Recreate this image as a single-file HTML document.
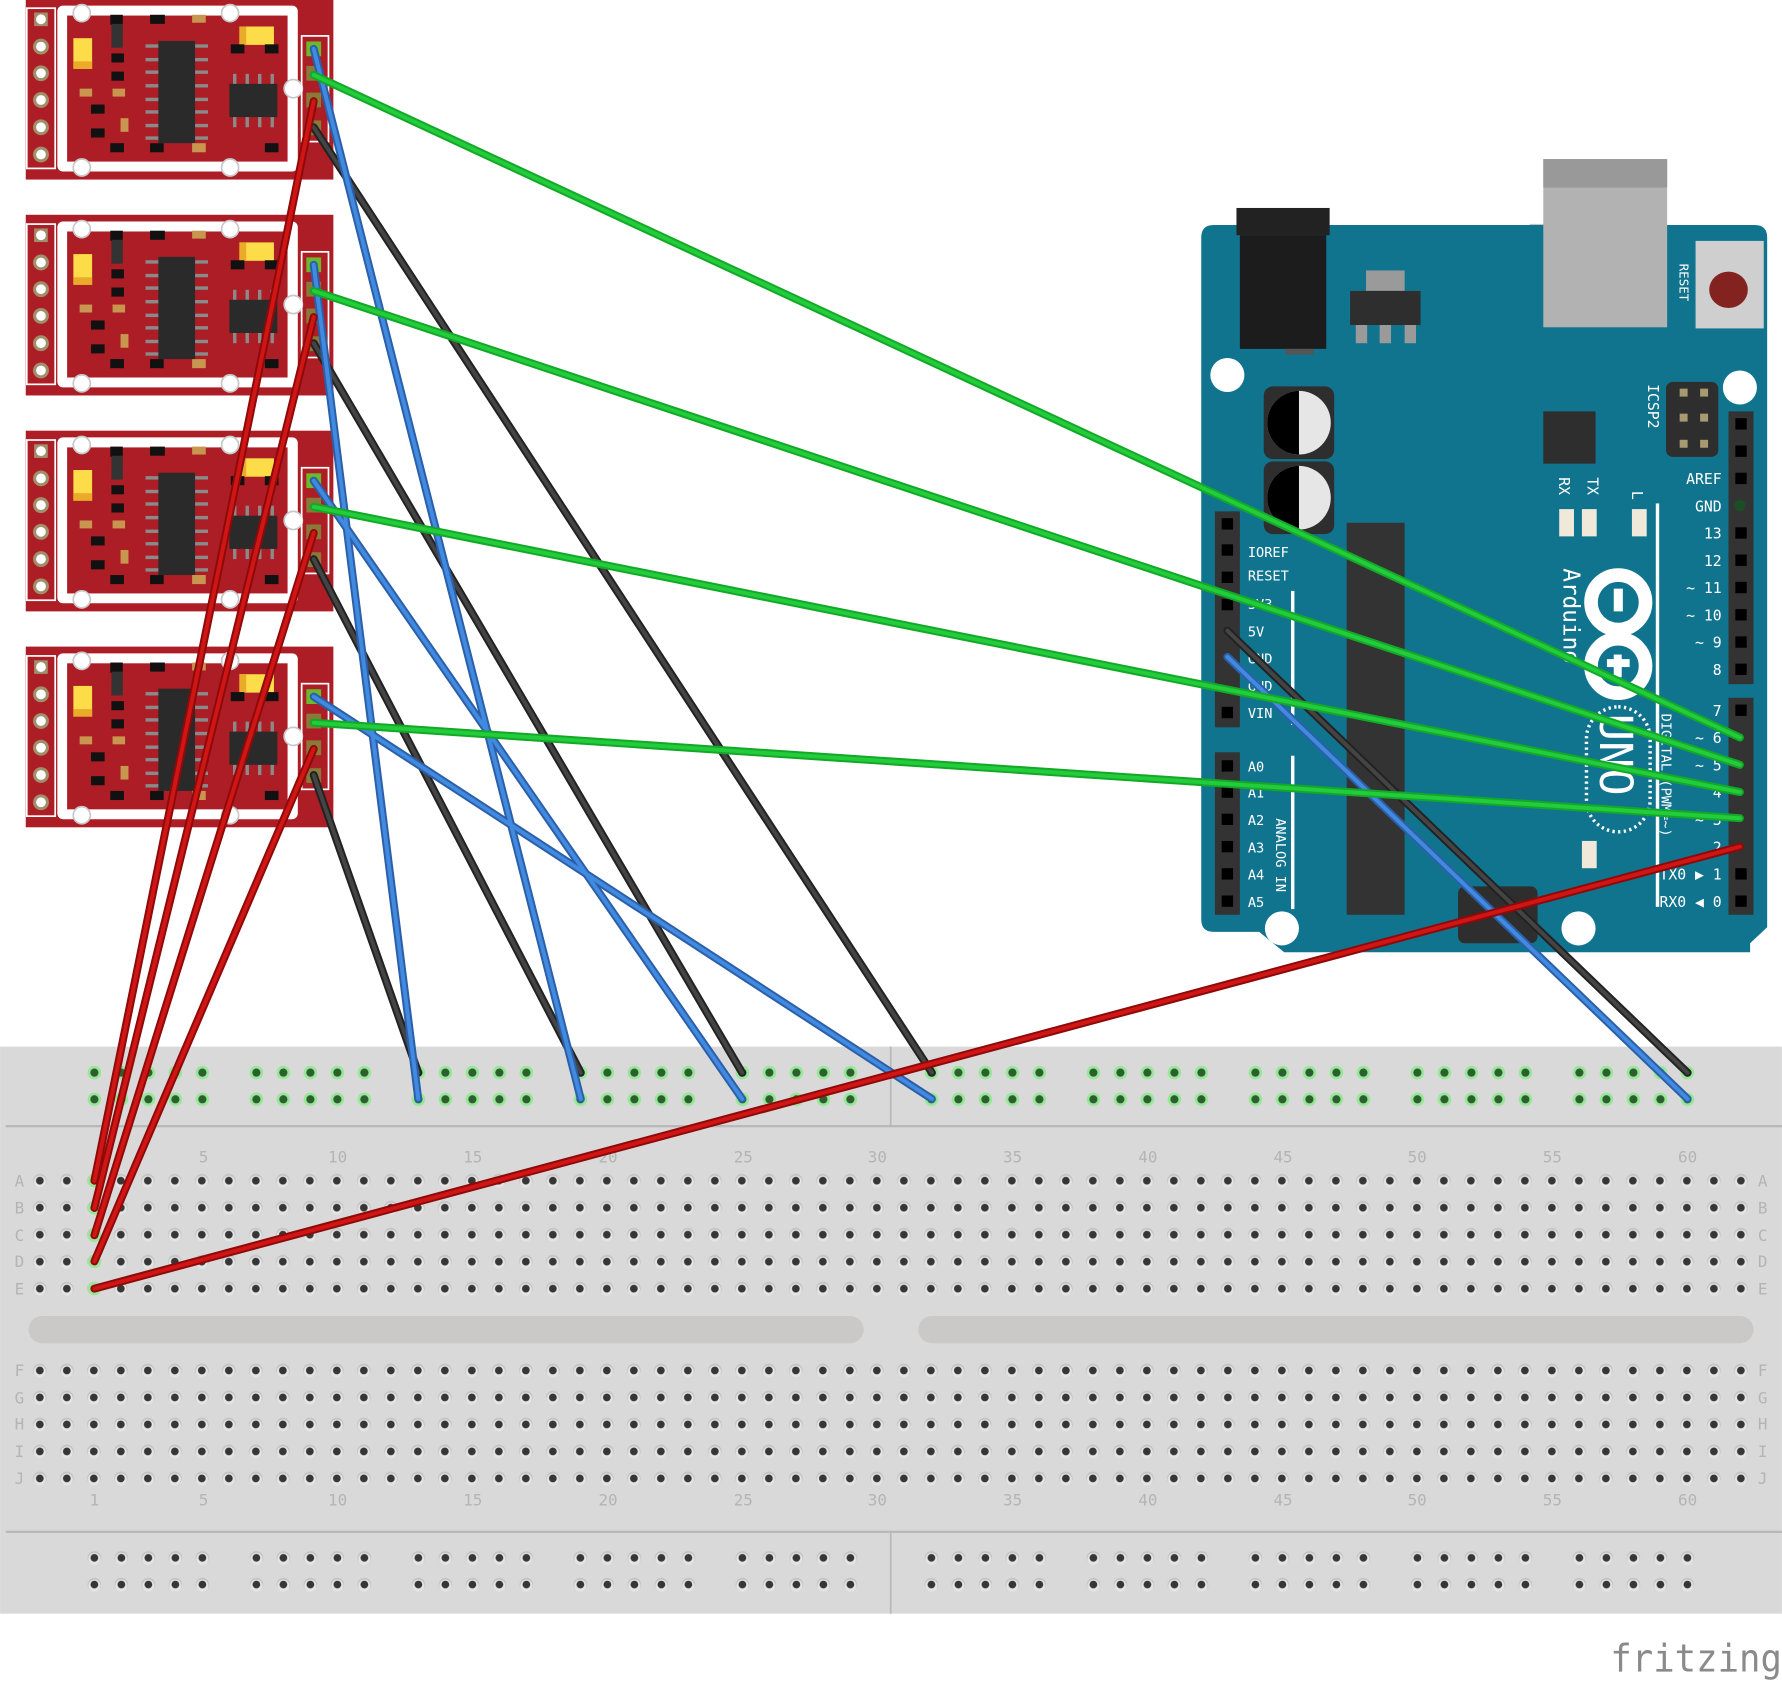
<!DOCTYPE html>
<html><head><meta charset="utf-8"><style>
html,body{margin:0;padding:0;background:#fff;}
svg{display:block;}
text{font-family:"DejaVu Sans Mono","Liberation Mono",monospace;}
</style></head><body>
<svg width="1782" height="1683" viewBox="0 0 1568 1481" xmlns="http://www.w3.org/2000/svg">
<defs>
<pattern id="hg" x="23.12" y="1027.1" width="23.76" height="23.75" patternUnits="userSpaceOnUse">
<circle cx="11.88" cy="11.88" r="6" fill="#c4c4c4"/><circle cx="11.88" cy="12.8" r="5.3" fill="#e4e4e4"/><circle cx="11.88" cy="11.88" r="3.4" fill="#363636"/></pattern>
<pattern id="hg2" x="23.12" y="1194.1" width="23.76" height="23.75" patternUnits="userSpaceOnUse">
<circle cx="11.88" cy="11.88" r="6" fill="#c4c4c4"/><circle cx="11.88" cy="12.8" r="5.3" fill="#e4e4e4"/><circle cx="11.88" cy="11.88" r="3.4" fill="#363636"/></pattern>
<pattern id="hgreen" x="71.12" y="932" width="23.76" height="23.5" patternUnits="userSpaceOnUse">
<circle cx="11.88" cy="11.88" r="6" fill="#98e698"/><circle cx="11.88" cy="11.88" r="3.6" fill="#2d5e2f"/></pattern>
<pattern id="hgreen2" x="71.12" y="1359" width="23.76" height="23.5" patternUnits="userSpaceOnUse">
<circle cx="11.88" cy="11.88" r="6" fill="#c4c4c4"/><circle cx="11.88" cy="12.8" r="5.3" fill="#e4e4e4"/><circle cx="11.88" cy="11.88" r="3.4" fill="#363636"/></pattern>
<g id="mod">
<rect x="22.6" y="0" width="270.7" height="159" fill="#ad1d25"/>
<rect x="23.5" y="8.2" width="25" height="141" fill="none" stroke="#fff" stroke-width="1.5"/>
<rect x="30" y="12" width="12" height="12" fill="#a08f6a"/><circle cx="36" cy="18" r="4.3" fill="#fff"/>
<circle cx="36" cy="42" r="7" fill="#a08f6a"/><circle cx="36" cy="42" r="4.3" fill="#fff"/>
<circle cx="36" cy="65.5" r="7" fill="#a08f6a"/><circle cx="36" cy="65.5" r="4.3" fill="#fff"/>
<circle cx="36" cy="89" r="7" fill="#a08f6a"/><circle cx="36" cy="89" r="4.3" fill="#fff"/>
<circle cx="36" cy="113" r="7" fill="#a08f6a"/><circle cx="36" cy="113" r="4.3" fill="#fff"/>
<circle cx="36" cy="137" r="7" fill="#a08f6a"/><circle cx="36" cy="137" r="4.3" fill="#fff"/>
<rect x="50.4" y="5.9" width="211.6" height="146" rx="5" fill="#fff"/>
<rect x="59" y="14.7" width="194" height="128.5" fill="#ad1d25"/>
<g fill="#fff" stroke="#c8c8c8" stroke-width="1.5"><circle cx="71.9" cy="12.6" r="7.5"/><circle cx="202.4" cy="12.6" r="7.5"/><circle cx="71.9" cy="148.4" r="7.5"/><circle cx="202.4" cy="148.4" r="7.5"/><circle cx="258" cy="79" r="8"/></g>
<g fill="#8a8a8a"><rect x="128" y="40" width="12" height="3"/><rect x="128" y="52" width="12" height="3"/><rect x="128" y="63" width="12" height="3"/><rect x="128" y="75" width="12" height="3"/><rect x="128" y="87" width="12" height="3"/><rect x="128" y="98" width="12" height="3"/><rect x="128" y="110" width="12" height="3"/><rect x="128" y="121" width="12" height="3"/>
<rect x="171" y="40" width="12" height="3"/><rect x="171" y="52" width="12" height="3"/><rect x="171" y="63" width="12" height="3"/><rect x="171" y="75" width="12" height="3"/><rect x="171" y="87" width="12" height="3"/><rect x="171" y="98" width="12" height="3"/><rect x="171" y="110" width="12" height="3"/><rect x="171" y="121" width="12" height="3"/>
<rect x="205" y="66" width="3" height="9"/><rect x="216" y="66" width="3" height="9"/><rect x="227" y="66" width="3" height="9"/><rect x="238" y="66" width="3" height="9"/>
<rect x="205" y="104" width="3" height="9"/><rect x="216" y="104" width="3" height="9"/><rect x="227" y="104" width="3" height="9"/><rect x="238" y="104" width="3" height="9"/></g>
<rect x="139.3" y="37" width="32.3" height="90" fill="#2a2a2a"/>
<rect x="201.8" y="74.8" width="42.2" height="29.2" fill="#2a2a2a"/>
<rect x="64.5" y="34.6" width="16.5" height="27" fill="#fcdc48"/><rect x="64.5" y="55" width="16.5" height="6.6" fill="#eaaa2a"/>
<rect x="210.6" y="24.3" width="30.4" height="16.2" fill="#fcdc48"/><rect x="210.6" y="24.3" width="6" height="16.2" fill="#eaaa2a"/>
<g fill="#111"><rect x="97" y="14" width="11" height="9"/><rect x="132" y="14" width="13" height="8"/><rect x="98" y="48" width="11" height="8"/><rect x="98" y="64" width="11" height="8"/><rect x="80" y="93" width="12" height="8"/><rect x="80" y="114" width="12" height="8"/><rect x="97" y="127" width="12" height="8"/><rect x="132" y="127" width="12" height="8"/><rect x="203" y="40" width="12" height="8"/><rect x="233" y="40" width="12" height="8"/><rect x="233" y="127" width="12" height="8"/><rect x="98" y="22" width="10" height="21" fill="#333"/></g>
<g fill="#c8964e"><rect x="169" y="14" width="12" height="7"/><rect x="70" y="79" width="11" height="7"/><rect x="99" y="79" width="11" height="7"/><rect x="106" y="105" width="7" height="12"/><rect x="169" y="127" width="12" height="8"/></g>
<rect x="265.4" y="32.6" width="23.6" height="93" fill="none" stroke="#fff" stroke-width="1.5"/>
<rect x="269.5" y="37.5" width="13" height="13" fill="#6cb82e"/><rect x="269.5" y="59" width="13" height="13" fill="#8a7a3a"/><rect x="269.5" y="82.5" width="13" height="13" fill="#8a7a3a"/><rect x="269.5" y="107" width="13" height="13" fill="#8a7a3a"/>
</g>
</defs>

<use href="#mod" y="-1"/>
<use href="#mod" y="189"/>
<use href="#mod" y="379"/>
<use href="#mod" y="569"/>

<rect x="1346" y="197" width="115" height="16" fill="#c4c4c4"/>
<path d="M1068 198 H1544 Q1555 198 1555 209 V816 L1540 830 V838 H1130 L1108 820 H1068 Q1057 820 1057 809 V209 Q1057 198 1068 198 Z" fill="#11748f"/>
<rect x="1358" y="140" width="109" height="148" fill="#b2b2b2"/><rect x="1358" y="140" width="109" height="25" fill="#999"/>
<rect x="1492" y="212" width="60" height="77" fill="#cfcfcf"/><ellipse cx="1521" cy="255" rx="17" ry="16" fill="#83231f"/>
<text x="0" y="0" transform="translate(1478,232) rotate(90)" font-size="11" fill="#fff">RESET</text>
<rect x="1088" y="183" width="82" height="24" fill="#222"/><rect x="1091" y="207" width="76" height="100" fill="#1c1c1c"/><rect x="1131" y="307" width="25" height="5" fill="#555"/>
<rect x="1202" y="238" width="34" height="18" fill="#9a9a9a"/><rect x="1188" y="256" width="62" height="30" fill="#2e2e2e"/>
<g fill="#9a9a9a"><rect x="1193" y="286" width="10" height="16"/><rect x="1214" y="286" width="10" height="16"/><rect x="1236" y="286" width="10" height="16"/></g>
<g fill="#fff"><ellipse cx="1080" cy="330" rx="15" ry="15"/><ellipse cx="1531" cy="341" rx="15" ry="15"/><ellipse cx="1128" cy="817" rx="15" ry="15"/><ellipse cx="1389" cy="817" rx="15" ry="15"/></g>
<rect x="1112" y="340" width="62" height="64" rx="8" fill="#2e2e2e"/><circle cx="1143" cy="372" r="28" fill="#e6e6e6"/><path d="M1143 344 A28 28 0 0 0 1143 400 Z" fill="#000"/>
<rect x="1112" y="406" width="62" height="64" rx="8" fill="#2e2e2e"/><circle cx="1143" cy="438" r="28" fill="#e6e6e6"/><path d="M1143 410 A28 28 0 0 0 1143 466 Z" fill="#000"/>
<rect x="1358" y="362" width="46" height="46" fill="#2e2e2e"/>
<rect x="1466" y="336" width="46" height="66" rx="6" fill="#2e2e2e"/>
<g fill="#a89a70"><rect x="1478" y="342" width="7" height="7"/><rect x="1496" y="342" width="7" height="7"/><rect x="1478" y="364" width="7" height="7"/><rect x="1496" y="364" width="7" height="7"/><rect x="1478" y="387" width="7" height="7"/><rect x="1496" y="387" width="7" height="7"/></g>
<text transform="translate(1450,338) rotate(90)" font-size="13" fill="#fff">ICSP2</text>
<text transform="translate(1372,420) rotate(90)" font-size="13" fill="#fff">RX</text>
<text transform="translate(1397,420) rotate(90)" font-size="13" fill="#fff">TX</text>
<text transform="translate(1436,432) rotate(90)" font-size="13" fill="#fff">L</text>
<g fill="#f0e8d8"><rect x="1372" y="448" width="13" height="24"/><rect x="1392" y="448" width="13" height="24"/><rect x="1436" y="448" width="13" height="24"/><rect x="1392" y="740" width="13" height="24"/></g>
<rect x="1185" y="460" width="51" height="345" fill="#333"/>
<rect x="1457" y="443" width="3" height="355" fill="#fff"/>
<text transform="translate(1376,500) rotate(90)" font-size="20" fill="#fff">Arduino</text>
<g fill="none" stroke="#fff" stroke-width="12"><circle cx="1424" cy="530" r="24"/><circle cx="1424" cy="586" r="24"/></g>
<rect x="1420" y="518" width="8" height="20" fill="#fff"/><rect x="1414" y="580" width="20" height="7" fill="#fff"/><rect x="1420" y="576" width="7" height="20" fill="#fff"/>
<rect x="1396" y="622" width="56" height="110" rx="28" fill="none" stroke="#fff" stroke-width="3" stroke-dasharray="2 3"/>
<text transform="translate(1408,628) rotate(90)" font-size="40" fill="#fff" font-family="Liberation Sans, sans-serif">UNO</text>
<text transform="translate(1462,628) rotate(90)" font-size="12" fill="#fff">DIGITAL (PWM=~)</text>
<text transform="translate(1123,720) rotate(90)" font-size="12" fill="#fff">ANALOG IN</text>
<rect x="1136" y="520" width="3" height="118" fill="#fff"/><rect x="1136" y="665" width="3" height="135" fill="#fff"/>
<rect x="1521" y="362" width="22" height="240" fill="#333"/><rect x="1521" y="614" width="22" height="191" fill="#333"/>
<rect x="1069" y="450" width="22" height="190" fill="#333"/><rect x="1069" y="662" width="22" height="143" fill="#333"/>
<g fill="#000">
<rect x="1527" y="368" width="10" height="10"/><rect x="1527" y="392" width="10" height="10"/><rect x="1527" y="416" width="10" height="10"/><rect x="1527" y="464" width="10" height="10"/><rect x="1527" y="488" width="10" height="10"/><rect x="1527" y="512" width="10" height="10"/><rect x="1527" y="536" width="10" height="10"/><rect x="1527" y="560" width="10" height="10"/><rect x="1527" y="584" width="10" height="10"/><rect x="1527" y="620" width="10" height="10"/><rect x="1527" y="764" width="10" height="10"/><rect x="1527" y="788" width="10" height="10"/>
<rect x="1075" y="456" width="10" height="10"/><rect x="1075" y="479" width="10" height="10"/><rect x="1075" y="503" width="10" height="10"/><rect x="1075" y="527" width="10" height="10"/><rect x="1075" y="622" width="10" height="10"/>
<rect x="1075" y="669" width="10" height="10"/><rect x="1075" y="692" width="10" height="10"/><rect x="1075" y="716" width="10" height="10"/><rect x="1075" y="740" width="10" height="10"/><rect x="1075" y="764" width="10" height="10"/><rect x="1075" y="788" width="10" height="10"/></g>
<circle cx="1531" cy="445" r="5" fill="#1d4d25"/>
<g font-size="13" fill="#fff" text-anchor="end">
<text x="1515" y="426">AREF</text><text x="1515" y="450">GND</text><text x="1515" y="474">13</text><text x="1515" y="498">12</text><text x="1515" y="522">~ 11</text><text x="1515" y="546">~ 10</text><text x="1515" y="570">~ 9</text><text x="1515" y="594">8</text><text x="1515" y="630">7</text><text x="1515" y="654">~ 6</text><text x="1515" y="678">~ 5</text><text x="1515" y="702">4</text><text x="1515" y="726">~ 3</text><text x="1515" y="750">2</text><text x="1515" y="774">TX0 ▶ 1</text><text x="1515" y="798">RX0 ◀ 0</text></g>
<g font-size="12" fill="#fff">
<text x="1098" y="490">IOREF</text><text x="1098" y="511">RESET</text><text x="1098" y="536">3V3</text><text x="1098" y="560">5V</text><text x="1098" y="584">GND</text><text x="1098" y="608">GND</text><text x="1098" y="632">VIN</text>
<text x="1098" y="679">A0</text><text x="1098" y="702">A1</text><text x="1098" y="726">A2</text><text x="1098" y="750">A3</text><text x="1098" y="774">A4</text><text x="1098" y="798">A5</text></g>
<rect x="1283" y="780" width="70" height="50" rx="6" fill="#2e2e2e"/>

<rect x="0" y="921" width="1568" height="499" fill="#d9d9d9"/>
<rect x="5" y="990" width="1563" height="2" fill="#b8b8b8"/>
<rect x="5" y="1347" width="1563" height="2" fill="#b8b8b8"/>
<rect x="783" y="921" width="1.5" height="70" fill="#b8b8b8"/>
<rect x="783" y="1349" width="1.5" height="71" fill="#b8b8b8"/>
<rect x="25" y="1158" width="735" height="24" rx="12" fill="#cbc9c7"/>
<rect x="808" y="1158" width="735" height="24" rx="12" fill="#cbc9c7"/>
<rect x="23.12" y="1027.1" width="1520.6" height="118.8" fill="url(#hg)"/>
<rect x="23.12" y="1194.1" width="1520.6" height="118.8" fill="url(#hg2)"/>
<g fill="url(#hgreen)">
<rect x="71.12" y="932" width="118.8" height="47"/><rect x="213.7" y="932" width="118.8" height="47"/><rect x="356.3" y="932" width="118.8" height="47"/><rect x="498.8" y="932" width="118.8" height="47"/><rect x="641.4" y="932" width="118.8" height="47"/>
<rect x="807.7" y="932" width="118.8" height="47"/><rect x="950.2" y="932" width="118.8" height="47"/><rect x="1092.8" y="932" width="118.8" height="47"/><rect x="1235.4" y="932" width="118.8" height="47"/><rect x="1377.9" y="932" width="118.8" height="47"/></g>
<g fill="url(#hgreen2)">
<rect x="71.12" y="1359" width="118.8" height="47"/><rect x="213.7" y="1359" width="118.8" height="47"/><rect x="356.3" y="1359" width="118.8" height="47"/><rect x="498.8" y="1359" width="118.8" height="47"/><rect x="641.4" y="1359" width="118.8" height="47"/>
<rect x="807.7" y="1359" width="118.8" height="47"/><rect x="950.2" y="1359" width="118.8" height="47"/><rect x="1092.8" y="1359" width="118.8" height="47"/><rect x="1235.4" y="1359" width="118.8" height="47"/><rect x="1377.9" y="1359" width="118.8" height="47"/></g>
<g font-family="DejaVu Sans, sans-serif" font-size="14" fill="#b4b4b4" text-anchor="middle">
<text x="179" y="1023">5</text><text x="297" y="1023">10</text><text x="416" y="1023">15</text><text x="535" y="1023">20</text><text x="654" y="1023">25</text><text x="772" y="1023">30</text><text x="891" y="1023">35</text><text x="1010" y="1023">40</text><text x="1129" y="1023">45</text><text x="1247" y="1023">50</text><text x="1366" y="1023">55</text><text x="1485" y="1023">60</text>
<text x="83" y="1325">1</text><text x="179" y="1325">5</text><text x="297" y="1325">10</text><text x="416" y="1325">15</text><text x="535" y="1325">20</text><text x="654" y="1325">25</text><text x="772" y="1325">30</text><text x="891" y="1325">35</text><text x="1010" y="1325">40</text><text x="1129" y="1325">45</text><text x="1247" y="1325">50</text><text x="1366" y="1325">55</text><text x="1485" y="1325">60</text>
<text x="17" y="1044">A</text><text x="17" y="1068">B</text><text x="17" y="1092">C</text><text x="17" y="1115">D</text><text x="17" y="1139">E</text>
<text x="17" y="1211">F</text><text x="17" y="1235">G</text><text x="17" y="1258">H</text><text x="17" y="1282">I</text><text x="17" y="1306">J</text>
<text x="1551" y="1044">A</text><text x="1551" y="1068">B</text><text x="1551" y="1092">C</text><text x="1551" y="1115">D</text><text x="1551" y="1139">E</text>
<text x="1551" y="1211">F</text><text x="1551" y="1235">G</text><text x="1551" y="1258">H</text><text x="1551" y="1282">I</text><text x="1551" y="1306">J</text></g>
<g fill="#98e698"><circle cx="83" cy="1039" r="6"/><circle cx="83" cy="1063" r="6"/><circle cx="83" cy="1087" r="6"/><circle cx="83" cy="1110" r="6"/><circle cx="83" cy="1134" r="6"/></g>

<g stroke-linecap="round" fill="none">
<g stroke="#222" stroke-width="7"><line x1="276" y1="112" x2="820" y2="944"/><line x1="276" y1="302" x2="653" y2="944"/><line x1="276" y1="492" x2="511" y2="944"/><line x1="276" y1="682" x2="368" y2="944"/><line x1="1080" y1="555" x2="1485" y2="944"/></g>
<g stroke="#444" stroke-width="3.5"><line x1="276" y1="112" x2="820" y2="944"/><line x1="276" y1="302" x2="653" y2="944"/><line x1="276" y1="492" x2="511" y2="944"/><line x1="276" y1="682" x2="368" y2="944"/><line x1="1080" y1="555" x2="1485" y2="944"/></g>
<g stroke="#2b5fa8" stroke-width="7"><line x1="276" y1="43" x2="511" y2="967"/><line x1="276" y1="233" x2="368" y2="967"/><line x1="276" y1="423" x2="653" y2="967"/><line x1="276" y1="613" x2="820" y2="967"/><line x1="1080" y1="578" x2="1485" y2="967"/></g>
<g stroke="#418ae0" stroke-width="3.5"><line x1="276" y1="43" x2="511" y2="967"/><line x1="276" y1="233" x2="368" y2="967"/><line x1="276" y1="423" x2="653" y2="967"/><line x1="276" y1="613" x2="820" y2="967"/><line x1="1080" y1="578" x2="1485" y2="967"/></g>
<g stroke="#14a828" stroke-width="7"><line x1="276" y1="66" x2="1531" y2="649"/><line x1="276" y1="256" x2="1531" y2="673"/><line x1="276" y1="446" x2="1531" y2="697"/><line x1="276" y1="636" x2="1531" y2="720"/></g>
<g stroke="#22cc3a" stroke-width="3.5"><line x1="276" y1="66" x2="1531" y2="649"/><line x1="276" y1="256" x2="1531" y2="673"/><line x1="276" y1="446" x2="1531" y2="697"/><line x1="276" y1="636" x2="1531" y2="720"/></g>
<g stroke="#8e0a0a" stroke-width="7"><line x1="276" y1="89" x2="83" y2="1039"/><line x1="276" y1="279" x2="83" y2="1063"/><line x1="276" y1="469" x2="83" y2="1087"/><line x1="276" y1="659" x2="83" y2="1110"/><line x1="1531" y1="745" x2="83" y2="1134"/></g>
<g stroke="#d01515" stroke-width="3.5"><line x1="276" y1="89" x2="83" y2="1039"/><line x1="276" y1="279" x2="83" y2="1063"/><line x1="276" y1="469" x2="83" y2="1087"/><line x1="276" y1="659" x2="83" y2="1110"/><line x1="1531" y1="745" x2="83" y2="1134"/></g>
</g>

<text x="1417" y="1471" textLength="151" lengthAdjust="spacingAndGlyphs" font-size="34" fill="#8a8a8a">fritzing</text>
</svg>
</body></html>
